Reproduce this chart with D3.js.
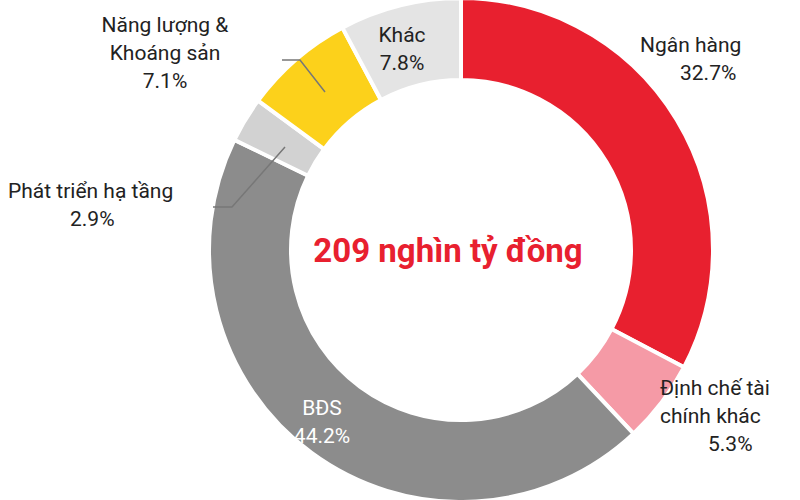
<!DOCTYPE html>
<html><head><meta charset="utf-8">
<script src="https://cdn.jsdelivr.net/npm/d3@7"></script>
<style>body{margin:0;background:#fff}</style>
</head><body>
<script>
var width = 800, height = 500;

var categories = ["Ngân hàng", "Định chế tài chính khác", "BĐS", "Phát triển hạ tầng", "Năng lượng & Khoáng sản", "Khác"];
var shares = [32.7, 5.3, 44.2, 2.9, 7.1, 7.8];
var colors = ["#e8202f", "#f59aa6", "#8c8c8c", "#d2d2d2", "#fcd11b", "#e4e4e4"];

var font = "'Liberation Sans Narrow', 'Roboto', sans-serif";

var svg = d3.select("body").append("svg")
    .attr("width", width).attr("height", height);

var g = svg.append("g").attr("transform", "translate(461,250)");

var pie = d3.pie().sort(null).value(function(d){ return d; });
var arc = d3.arc().innerRadius(170).outerRadius(252);

g.selectAll("path.slice")
    .data(pie(shares))
    .enter().append("path")
    .attr("class", "slice")
    .attr("d", arc)
    .attr("fill", function(d, i){ return colors[i]; })
    .attr("stroke", "#fff")
    .attr("stroke-width", 4);

// leader lines
svg.append("polyline").attr("points", "282,60 300,60 325,92")
    .attr("fill", "none").attr("stroke", "#777").attr("stroke-width", 1.5);
svg.append("polyline").attr("points", "213,207 232,207 285,147")
    .attr("fill", "none").attr("stroke", "#777").attr("stroke-width", 1.5);

// labels: [lines, x, y, anchor, color]
var labels = [
  [["Ngân hàng", "32.7%"], 640, 52, "start", "#222"],
  [["Định chế tài", "chính khác", "5.3%"], 660, 395, "start", "#222"],
  [["BĐS", "44.2%"], 322, 415, "middle", "#fff"],
  [["Phát triển hạ tầng", "2.9%"], 8, 198, "start", "#222"],
  [["Năng lượng &", "Khoáng sản", "7.1%"], 165, 32, "middle", "#222"],
  [["Khác", "7.8%"], 402, 42, "middle", "#222"]
];
labels.forEach(function(l){
  var t = svg.append("text").attr("x", l[1]).attr("y", l[2])
      .attr("text-anchor", l[3]).attr("fill", l[4])
      .style("font-family", font).style("font-size", "21px");
  l[0].forEach(function(s, j){
    var ts = t.append("tspan").attr("dy", j ? 28 : 0).text(s);
    if (l[3] === "start" && j === l[0].length - 1 && l[0].length > 1) {
      ts.attr("x", l[1] + (l[0][0] === "Ngân hàng" ? 40 : (l[0].length === 3 ? 48 : 0)));
      if (l[0].length === 2 && l[0][0] !== "Ngân hàng") ts.attr("x", l[1] + 62);
    } else ts.attr("x", l[1]);
  });
});

svg.append("text").attr("x", 448).attr("y", 262)
    .attr("text-anchor", "middle").attr("fill", "#e8202f")
    .style("font-family", font).style("font-size", "33px").style("font-weight", "bold")
    .text("209 nghìn tỷ đồng");
</script>
</body></html>
